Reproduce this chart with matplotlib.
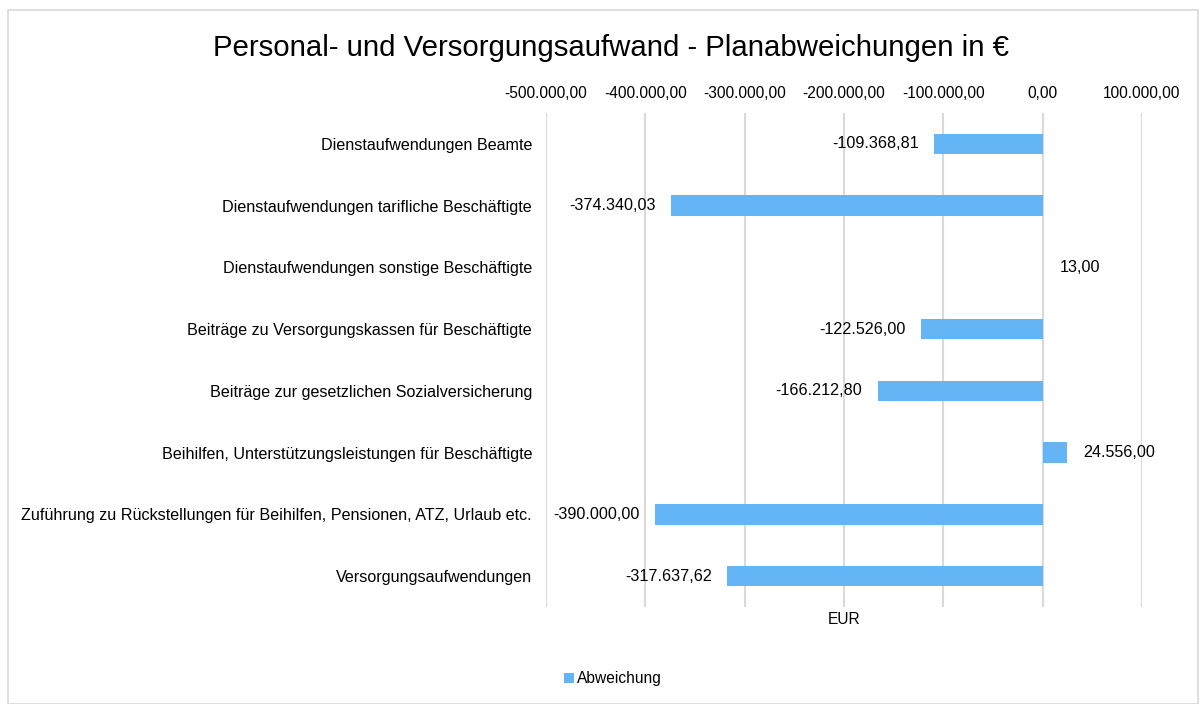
import matplotlib
matplotlib.use("Agg")
import matplotlib.pyplot as plt
from matplotlib.patches import Rectangle
from matplotlib.ticker import FuncFormatter

plt.rcParams['font.family'] = ['Liberation Sans', 'DejaVu Sans']

categories = [
    "Dienstaufwendungen Beamte",
    "Dienstaufwendungen tarifliche Beschäftigte",
    "Dienstaufwendungen sonstige Beschäftigte",
    "Beiträge zu Versorgungskassen für Beschäftigte",
    "Beiträge zur gesetzlichen Sozialversicherung",
    "Beihilfen, Unterstützungsleistungen für Beschäftigte",
    "Zuführung zu Rückstellungen für Beihilfen, Pensionen, ATZ, Urlaub etc.",
    "Versorgungsaufwendungen",
]
values = [-109368.81, -374340.03, 13.00, -122526.00, -166212.80, 24556.00, -390000.00, -317637.62]
xticks = [-500000, -400000, -300000, -200000, -100000, 0, 100000]

FS = 11.2
FS_CAT = 11.6
FS_VAL = 11.6

def de_fmt(v):
    s = f"{abs(v):,.2f}"
    s = s.replace(",", "X").replace(".", ",").replace("X", ".")
    return ("-" if v < 0 else "") + s

fig = plt.figure(figsize=(12, 7.04), dpi=100)
fig.patch.set_facecolor("white")
fig.add_artist(Rectangle((8/1200, 0.0), 1190/1200, 1 - 10/704, transform=fig.transFigure,
                         fill=False, edgecolor="#d9d9d9", linewidth=1.2))

ax = fig.add_axes([546/1200, 1 - 607/704, (1142 - 546)/1200, (607 - 113)/704])
bar_color = "#64B5F6"
ypos = list(range(len(categories)))
ax.barh(ypos, values, height=0.33, color=bar_color, label="Abweichung", zorder=3)
ax.set_xlim(-500000, 100000)
ax.set_ylim(len(categories) - 0.5, -0.5)
ax.set_yticks(ypos)
ax.set_yticklabels(categories, fontsize=FS_CAT)
ax.set_xticks(xticks)
ax.xaxis.set_major_formatter(FuncFormatter(lambda v, p: de_fmt(v)))
ax.xaxis.tick_top()
ax.tick_params(axis='x', length=0, labelsize=FS, pad=9)
ax.tick_params(axis='y', length=0, pad=10)
for s in ax.spines.values():
    s.set_visible(False)
ax.grid(axis='x', color="#d9d9d9", linewidth=1.5, zorder=0)
ax.set_axisbelow(True)

for y, v in zip(ypos, values):
    if v < 0:
        ax.annotate(de_fmt(v), xy=(v, y), xytext=(-11, 0), textcoords="offset points",
                    ha="right", va="center", fontsize=FS_VAL, color="black")
    else:
        ax.annotate(de_fmt(v), xy=(v, y), xytext=(12, 0), textcoords="offset points",
                    ha="left", va="center", fontsize=FS_VAL, color="black")

fig.text(844/1200, 1 - 620/704, "EUR", ha="center", va="center", fontsize=FS)
fig.text(611/1200, 1 - 48/704, "Personal- und Versorgungsaufwand - Planabweichungen in €",
         ha="center", va="center", fontsize=21.2)

handles, labels = ax.get_legend_handles_labels()
fig.legend(handles, labels, loc="center", bbox_to_anchor=(613/1200, 1 - 679/704),
           frameon=False, fontsize=FS, handlelength=0.6, handleheight=0.6,
           handletextpad=0.2)

fig.savefig("out.png", dpi=100, facecolor="white")
